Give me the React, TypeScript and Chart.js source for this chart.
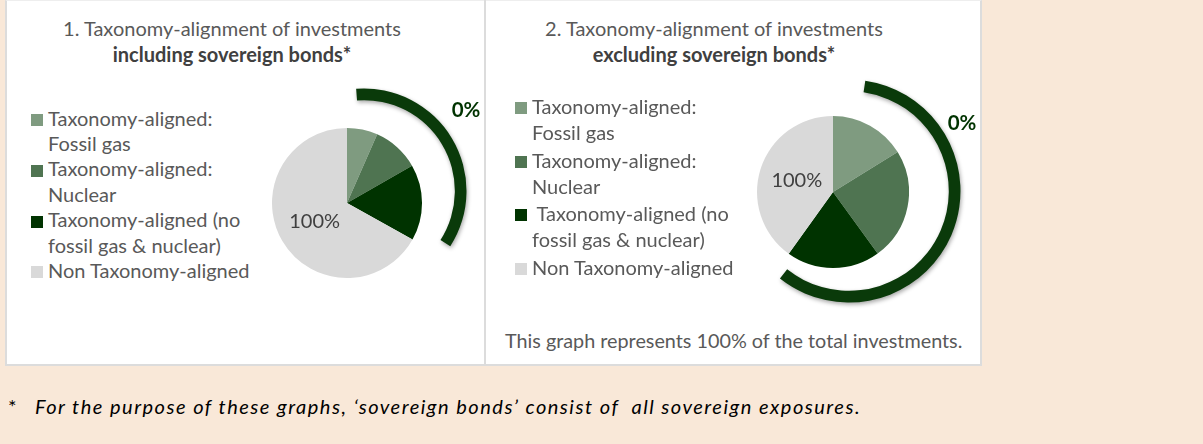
import React, { useEffect, useRef } from 'react';
import { Chart, registerables } from 'chart.js';

Chart.register(...registerables);

const FONT = 'Lato, "DejaVu Sans", sans-serif';

// ---- data ----
const categoriesIncl: string[][] = [
  ['Taxonomy-aligned:', 'Fossil gas'],
  ['Taxonomy-aligned:', 'Nuclear'],
  ['Taxonomy-aligned (no', 'fossil gas & nuclear)'],
  ['Non Taxonomy-aligned'],
];
const categoriesExcl: string[][] = [
  ['Taxonomy-aligned:', 'Fossil gas'],
  ['Taxonomy-aligned:', 'Nuclear'],
  [' Taxonomy-aligned (no', 'fossil gas & nuclear)'],
  ['Non Taxonomy-aligned'],
];
const sliceColors = ['#7F9B80', '#4F7451', '#003300', '#D9D9D9'];
const valuesIncl = [6.6, 10.1, 16.4, 66.9];
const valuesExcl = [16.2, 23.8, 19.9, 40.1];
const nonAlignedShare = '100%';
const alignedShare = '0%';
const arcIncl = [35.3, 64.7];
const arcExcl = [58.3, 41.7];
const arcStartIncl = -4.4;
const arcStartExcl = 8.4;
const titleLine1 = ['1. Taxonomy-alignment of investments', '2. Taxonomy-alignment of investments'];
const titleLine2 = ['including sovereign bonds*', 'excluding sovereign bonds*'];
const footerNote = 'This graph represents 100% of the total investments.';
const footnoteMark = '*';
const footnote = 'For the purpose of these graphs, \u2018sovereign bonds\u2019 consist of  all sovereign exposures.';

// ---- helpers ----
const ASC = 0.987;
function topFor(baseline: number, fs: number, lh: number) {
  return baseline - ((lh - 1.2 * fs) / 2 + ASC * fs);
}

function PieChart({ values, labels, cx, cy, r, label, labelIndex }: any) {
  const ref = useRef<HTMLCanvasElement>(null);
  const size = r * 2;
  useEffect(() => {
    const labelPlugin = {
      id: 'sliceLabel',
      afterDatasetsDraw(chart: any) {
        const el = chart.getDatasetMeta(0).data[labelIndex];
        if (!el) return;
        const p = el.tooltipPosition(false);
        const ctx = chart.ctx;
        ctx.save();
        ctx.font = `20px ${FONT}`;
        ctx.fillStyle = '#404040';
        ctx.textAlign = 'center';
        ctx.textBaseline = 'middle';
        ctx.fillText(label, p.x, p.y);
        ctx.restore();
      },
    };
    const chart = new Chart(ref.current as HTMLCanvasElement, {
      type: 'pie',
      data: {
        labels: labels.map((l: string[]) => l.join(' ').trim()),
        datasets: [{ data: values, backgroundColor: sliceColors, borderWidth: 0, hoverOffset: 0 }],
      },
      options: {
        animation: false,
        responsive: false,
        devicePixelRatio: 1,
        events: [],
        layout: { padding: 0 },
        plugins: { legend: { display: false }, tooltip: { enabled: false }, title: { display: false } },
      },
      plugins: [labelPlugin],
    } as any);
    return () => chart.destroy();
  }, []);
  return (
    <canvas
      ref={ref}
      width={size}
      height={size}
      style={{ position: 'absolute', left: cx - r, top: cy - r, width: size, height: size }}
    />
  );
}

function ArcChart({ values, start, cx, cy, r, w }: any) {
  const ref = useRef<HTMLCanvasElement>(null);
  const size = Math.ceil(r * 2 + 20);
  useEffect(() => {
    const chart = new Chart(ref.current as HTMLCanvasElement, {
      type: 'doughnut',
      data: {
        labels: ['Taxonomy-aligned', 'Other'],
        datasets: [{ data: values, backgroundColor: ['#0A3A0A', 'rgba(0,0,0,0)'], borderWidth: 0, hoverOffset: 0 }],
      },
      options: {
        animation: false,
        responsive: false,
        devicePixelRatio: 1,
        events: [],
        rotation: start,
        radius: r + w / 2,
        cutout: r - w / 2,
        layout: { padding: 0 },
        plugins: { legend: { display: false }, tooltip: { enabled: false } },
      },
    } as any);
    return () => chart.destroy();
  }, []);
  return (
    <canvas
      ref={ref}
      width={size}
      height={size}
      style={{
        position: 'absolute',
        left: cx - size / 2,
        top: cy - size / 2,
        width: size,
        height: size,
        filter: 'drop-shadow(1px 2px 2px rgba(0,0,0,0.35))',
      }}
    />
  );
}

function CenterText({ text, cx, baseline, fs, bold, color }: any) {
  const lh = Math.round(fs * 1.3);
  return (
    <div
      style={{
        position: 'absolute',
        left: cx - 300,
        width: 600,
        top: topFor(baseline, fs, lh),
        textAlign: 'center',
        fontFamily: FONT,
        fontSize: fs,
        lineHeight: `${lh}px`,
        fontWeight: bold ? 700 : 400,
        color,
        whiteSpace: 'pre',
      }}
    >
      {text}
    </div>
  );
}

function LeftText({ text, x, baseline, fs, bold, italic, color, ls }: any) {
  const lh = Math.round(fs * 1.3);
  return (
    <div
      style={{
        position: 'absolute',
        left: x,
        top: topFor(baseline, fs, lh),
        fontFamily: FONT,
        fontSize: fs,
        lineHeight: `${lh}px`,
        fontWeight: bold ? 700 : 400,
        fontStyle: italic ? 'italic' : 'normal',
        letterSpacing: ls ? `${ls}px` : 'normal',
        color,
        whiteSpace: 'pre',
      }}
    >
      {text}
    </div>
  );
}

function Legend({ items, textX, squareX, firstBaseline, lh, gap, fs }: any) {
  const baseOff = (lh - 1.2 * fs) / 2 + ASC * fs;
  return (
    <div
      style={{
        position: 'absolute',
        left: textX,
        top: firstBaseline - baseOff,
        fontFamily: FONT,
        fontSize: fs,
        lineHeight: `${lh}px`,
        color: '#595959',
        whiteSpace: 'pre',
      }}
    >
      {items.map((lines: string[], i: number) => (
        <div key={i} style={{ position: 'relative', marginTop: i === 0 ? 0 : gap }}>
          <span
            style={{
              position: 'absolute',
              left: squareX - textX,
              top: baseOff - 12,
              width: 12,
              height: 12,
              background: sliceColors[i],
            }}
          />
          {lines.map((l, j) => (
            <div key={j}>{l}</div>
          ))}
        </div>
      ))}
    </div>
  );
}

export default function App() {
  const fs = 20;
  return (
    <div
      style={{
        position: 'fixed',
        left: 0,
        top: 0,
        width: 1203,
        height: 444,
        background: '#F9E8D8',
        overflow: 'hidden',
      }}
    >
      {/* white panel */}
      <div
        style={{
          position: 'absolute',
          left: 5,
          top: 0,
          width: 973,
          height: 363,
          background: '#FFFFFF',
          borderLeft: '2px solid #DCDCDC',
          borderRight: '2px solid #DCDCDC',
          borderBottom: '2px solid #DCDCDC',
          borderTop: '1px solid #EEEEEE',
          boxSizing: 'content-box',
        }}
      />
      <div style={{ position: 'absolute', left: 484, top: 0, width: 2, height: 364, background: '#DCDCDC' }} />

      {/* panel 1 */}
      <CenterText text={titleLine1[0]} cx={232} baseline={36} fs={fs} color="#595959" />
      <CenterText text={titleLine2[0]} cx={232} baseline={61.5} fs={fs} bold color="#404040" />
      <Legend items={categoriesIncl} textX={48} squareX={31} firstBaseline={126} lh={25.4} gap={0} fs={fs} />
      <PieChart values={valuesIncl} labels={categoriesIncl} cx={347} cy={203} r={75} label={nonAlignedShare} labelIndex={3} />
      <ArcChart values={arcIncl} start={arcStartIncl} cx={364} cy={191} r={100} w={5} />
      <CenterText text={alignedShare} cx={466} baseline={117} fs={20.5} bold color="#003300" />

      {/* panel 2 */}
      <CenterText text={titleLine1[1]} cx={714} baseline={36} fs={fs} color="#595959" />
      <CenterText text={titleLine2[1]} cx={714} baseline={61.5} fs={fs} bold color="#404040" />
      <Legend items={categoriesExcl} textX={532} squareX={515} firstBaseline={114} lh={26} gap={1.6} fs={fs} />
      <PieChart values={valuesExcl} labels={categoriesExcl} cx={833} cy={192} r={76} label={nonAlignedShare} labelIndex={3} />
      <ArcChart values={arcExcl} start={arcStartExcl} cx={849} cy={191} r={109} w={5} />
      <CenterText text={alignedShare} cx={962} baseline={130} fs={20.5} bold color="#003300" />
      <LeftText text={footerNote} x={505} baseline={348} fs={19.8} color="#595959" />

      {/* footnote */}
      <LeftText text={footnoteMark} x={8} baseline={414} fs={fs} color="#000000" />
      <LeftText text={footnote} x={35} baseline={414} fs={fs} italic ls={1.5} color="#000000" />
    </div>
  );
}
